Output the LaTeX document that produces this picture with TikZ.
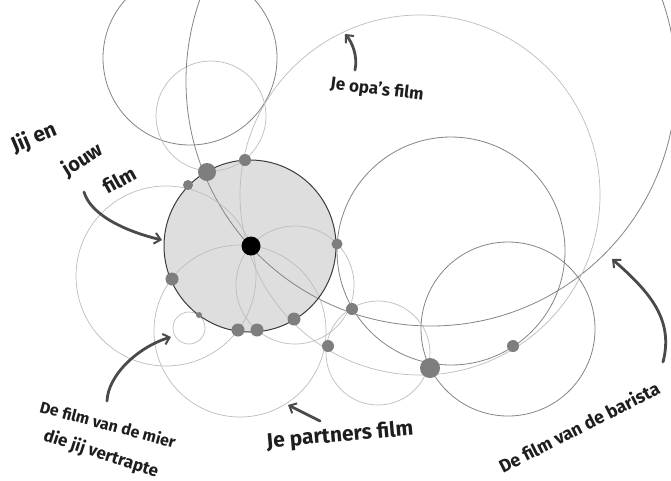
\documentclass[tikz,border=0pt]{standalone}
\usepackage{fontspec}
\setmainfont{Fira Sans}
\usetikzlibrary{arrows.meta}
\definecolor{discgray}{HTML}{DEDEDE}
\definecolor{rimdark}{HTML}{3C3C3C}
\definecolor{ringdark}{HTML}{858585}
\definecolor{ringpale}{HTML}{BDBDBD}
\definecolor{dotgray}{HTML}{7E7E7E}
\definecolor{penstroke}{HTML}{4A4A4A}
\definecolor{ink}{HTML}{1E1E1E}
\begin{document}
\begin{tikzpicture}[x=1pt,y=-1pt,
  ringd/.style={draw=ringdark, line width=0.8pt},
  ringp/.style={draw=ringpale, line width=0.7pt},
  dot/.style={circle, fill=dotgray, inner sep=0pt, minimum size=#1},
  handtext/.style={font=\fontsize{#1}{#1}\selectfont\bfseries, text=ink, inner sep=0pt},
  leadline/.style={draw=penstroke, line width=2.8pt, line cap=round,
    -{Straight Barb[length=6pt,width=11pt,line width=2pt]}}
]
\useasboundingbox (0,0) rectangle (671,480);
\fill[white] (0,0) rectangle (671,480);
\begin{scope}
\clip (0,0) rectangle (671,480);
% your own film: the shaded disc
\fill[discgray] (250,246) circle[radius=86pt];
% the films of everybody else
\draw[ringd] (190,58) circle[radius=87pt];
\draw[ringp] (211,116) circle[radius=55pt];
\draw[ringd] (431,81) circle[radius=245pt];
\draw[ringp] (420,195) circle[radius=180pt];
\draw[ringd] (451,251) circle[radius=114pt];
\draw[ringd] (508,329) circle[radius=87pt];
\draw[ringp] (166,276) circle[radius=90pt];
\draw[ringp] (240,331) circle[radius=86pt];
\draw[ringp] (295,285) circle[radius=59pt];
\draw[ringp] (378,353) circle[radius=52pt];
\draw[ringp] (189,328) circle[radius=16pt];
% rim of the shaded disc
\draw[draw=rimdark, line width=1pt] (250,246) circle[radius=86pt];
\end{scope}

% meeting points
\node[dot=18pt] (m1) at (207,172) {};
\node[dot=12pt] (m2) at (245,160) {};
\node[dot=10pt] (m3) at (188,185) {};
\node[dot=11pt] (m4) at (337,244) {};
\node[dot=13pt] (m5) at (172,279) {};
\node[dot=13pt] (m6) at (294,319) {};
\node[dot=13pt] (m7) at (238,330) {};
\node[dot=13pt] (m8) at (257,330) {};
\node[dot=12pt] (m9) at (352,309) {};
\node[dot=12pt] (m10) at (328,346) {};
\node[dot=20pt] (m11) at (430,368) {};
\node[dot=12pt] (m12) at (513,346) {};
\node[dot=6pt] (m13) at (199,315) {};
\node[circle, fill=black, inner sep=0pt, minimum size=19pt] (me) at (251,246) {};

% captions
\node[handtext=21, rotate=23] (t1) at (34,138) {Jij en};
\node[handtext=20, rotate=32] (t2) at (83,160) {jouw};
\node[handtext=20, rotate=29] (t3) at (119,180) {film};
\node[handtext=17, rotate=-7] (t4) at (377,90) {Je opa’s film};
\node[handtext=16, rotate=-15] (t5) at (108,424) {De film van de mier};
\node[handtext=17, rotate=-18] (t6) at (101,454) {die jij vertrapte};
\node[handtext=21, rotate=5] (t7) at (340,436) {Je partners film};
\node[handtext=18, rotate=27] (t8) at (579,427) {De film van de barista};

% arrow ends
\coordinate (a1s) at (84,192);
\coordinate (a1e) at (162,240);
\coordinate (a2s) at (107,401);
\coordinate (a2e) at (171,337);
\coordinate (a3s) at (320,421);
\coordinate (a3e) at (288,405);
\coordinate (a4s) at (355,70);
\coordinate (a4e) at (345,34);
\coordinate (a5s) at (663,362);
\coordinate (a5e) at (612,259);

\draw[leadline] (a1s) .. controls (91,216) and (128,232) .. (a1e);
\draw[leadline] (a2s) .. controls (108,375) and (138,347) .. (a2e);
\draw[leadline] (a3s) -- (a3e);
\draw[leadline] (a4s) .. controls (358,56) and (352,42) .. (a4e);
\draw[leadline] (a5s) .. controls (674,320) and (650,292) .. (a5e);
\end{tikzpicture}
\end{document}
